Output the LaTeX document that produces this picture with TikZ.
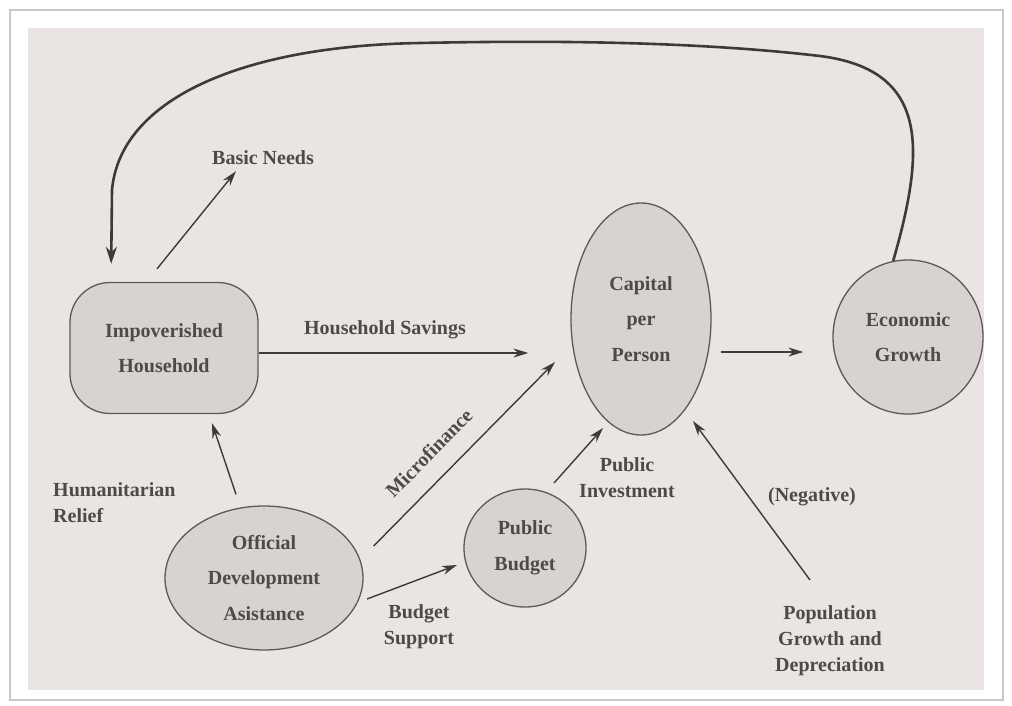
\documentclass[tikz,border=0pt]{standalone}
\usepackage{fontspec}
\setmainfont{Liberation Serif}
\usetikzlibrary{shapes.geometric,arrows.meta,calc}
\definecolor{pagebg}{HTML}{EAE4E2}
\definecolor{nodefill}{HTML}{D8D2D1}
\definecolor{ink}{HTML}{4F4A4A}
\definecolor{linec}{HTML}{3E3A3A}
\definecolor{nodeline}{HTML}{5E5858}
\definecolor{framec}{HTML}{C8C8C8}
\begin{document}
\begin{tikzpicture}[x=1pt,y=-1pt,
  txt/.style={font=\fontsize{20}{26}\selectfont\bfseries, text=ink, inner sep=0pt, align=center},
  nodetxt/.style={font=\fontsize{20}{35.5}\selectfont\bfseries, text=ink, align=center, draw=nodeline, line width=1.3pt, fill=nodefill, inner sep=0pt},
  bub/.style={nodetxt, ellipse},
  arr/.style={draw=linec, line width=1.4pt, -{Stealth[length=15pt,width=9pt]}},
  bigarr/.style={draw=linec, line width=2.6pt, -{Stealth[length=17pt,width=11pt]}},
]
\useasboundingbox (0,0) rectangle (1012,705);
\fill[white] (0,0) rectangle (1012,705);
\draw[framec, line width=1.5pt] (10,10) rectangle (1003,700);
\fill[pagebg] (28,28) rectangle (984,690);

% main nodes
\node[nodetxt, rectangle, rounded corners=40pt, minimum width=188pt, minimum height=131pt] (ih) at (164,348) {Impoverished\\Household};
\node[bub, minimum width=140pt, minimum height=232pt] (cp) at (641,319) {Capital\\per\\Person};
\node[bub, minimum width=150pt, minimum height=154pt] (eg) at (908,337) {Economic\\Growth};
\node[bub, minimum width=198pt, minimum height=144pt] (oda) at (264,578) {Official\\Development\\Asistance};
\node[bub, minimum width=122pt, minimum height=118pt] (pb) at (525,548) {Public\\Budget};

% labels
\node[txt] (bn) at (263,158) {Basic Needs};
\node[txt] (hs) at (385,330) {Household Savings};
\node[txt, align=left, anchor=west] (hr) at (53,503) {Humanitarian\\Relief};
\node[txt, rotate=45.5] (mf) at (429,453) {Microfinance};
\node[txt] (bs) at (419,627) {Budget\\Support};
\node[txt] (pi) at (627,478) {Public\\Investment};
\node[txt] (ng) at (812,497) {(Negative)};
\node[txt] (pgd) at (830,641) {Population\\Growth and\\Depreciation};

% connectors
\draw[arr] ($(ih.north)+(-7,-13)$) -- ($(bn.south west)+(24,6)$);
\draw[arr, shorten >=42pt] ([yshift=-5pt]ih.east) -- ([yshift=-5pt]ih.east -| cp.west);
\draw[arr, shorten <=9pt, shorten >=29pt] ([yshift=-33pt]cp.east) -- ([yshift=-15pt]eg.west);
\draw[arr] ($(oda.north)+(-28,-11)$) -- ($(ih.south)+(48,9)$);
\draw[arr] ($(oda.east)+(10,-32)$) -- ($(cp.center)+(-86,43)$);
\draw[arr] ($(oda.center)+(103,21)$) -- ($(pb.center)+(-68,17)$);
\draw[arr] ($(pb.center)+(29,-65)$) -- ($(cp.center)+(-38,109)$);
\draw[arr] ($(pgd.center)+(-20,-61)$) -- ($(cp.center)+(52,102)$);

% feedback loop
\draw[bigarr, shorten >=18pt] (eg.101) .. controls (925,150) and (930,70) .. (820,56)
  .. controls (700,42) and (560,40) .. (420,43)
  .. controls (240,46) and (120,100) .. (112,190) -- (111,0 |- ih.north);
\end{tikzpicture}
\end{document}
